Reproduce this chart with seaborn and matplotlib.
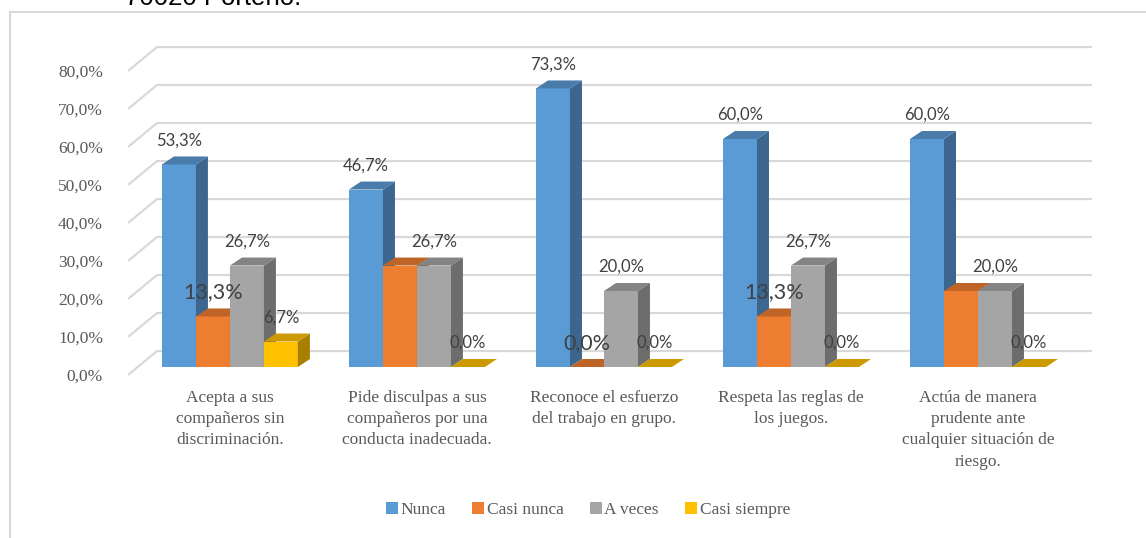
import numpy as np
import pandas as pd
import matplotlib.pyplot as plt
import seaborn as sns
from matplotlib.patches import Polygon, Patch, Rectangle
from matplotlib.colors import to_rgb

# --- datos ---
criterios = [
    "Acepta a sus\ncompañeros sin\ndiscriminación.",
    "Pide disculpas a sus\ncompañeros por una\nconducta inadecuada.",
    "Reconoce el esfuerzo\ndel trabajo en grupo.",
    "Respeta las reglas de\nlos juegos.",
    "Actúa de manera\nprudente ante\ncualquier situación de\nriesgo.",
]
respuestas = ["Nunca", "Casi nunca", "A veces", "Casi siempre"]
nunca = [53.3, 46.7, 73.3, 60.0, 60.0]
casi_nunca = [13.3, 26.7, 0.0, 13.3, 20.0]
a_veces = [26.7, 26.7, 20.0, 26.7, 20.0]
casi_siempre = [6.7, 0.0, 0.0, 0.0, 0.0]
y_ticks = [0, 10, 20, 30, 40, 50, 60, 70, 80]
titulo_cortado = "70020 Porteño."

# etiquetas visibles en el original (las de "Casi nunca" salen grandes y solo en algunas)
mostrar = {
    "Nunca": [True] * 5,
    "Casi nunca": [True, False, True, True, False],
    "A veces": [True] * 5,
    "Casi siempre": [True] * 5,
}

colores = ["#5B9BD5", "#ED7D31", "#A5A5A5", "#FFC000"]

df = pd.DataFrame({
    "Criterio": np.repeat(criterios, len(respuestas)),
    "Respuesta": respuestas * len(criterios),
    "Porcentaje": np.column_stack([nunca, casi_nunca, a_veces, casi_siempre]).ravel(),
})

sns.set_theme(style="white")
plt.rcParams["font.family"] = ["Liberation Serif", "DejaVu Serif"]

W, H = 1146, 538
fig = plt.figure(figsize=(W / 100, H / 100), dpi=100)
ax = fig.add_axes([128 / W, (H - 378.4) / H, 972 / W, (378.4 - 44) / H])

sns.barplot(data=df, x="Criterio", y="Porcentaje", hue="Respuesta",
            hue_order=respuestas, palette=colores, width=0.727,
            saturation=1, linewidth=0, legend=False, ax=ax)

ax.set_xlim(-0.545, 4.6524)
ax.set_ylim(-3, 85)

# pseudo 3D: profundidad de las barras
DX, DY = 12 / 187, 8 / 3.8
LBL = 6.3

bars = []
for j, cont in enumerate(ax.containers):
    for i, b in enumerate(cont.patches):
        bars.append((b.get_x(), j, i, b))
bars.sort(key=lambda t: t[0])

for rank, (_, j, i, b) in enumerate(bars):
    z = 2 + rank * 0.01
    base = np.array(to_rgb(colores[j]))
    lado = base * 0.66
    techo = base * 0.80
    L, R, h = b.get_x(), b.get_x() + b.get_width(), b.get_height()
    b.set_zorder(z)
    ax.add_patch(Polygon([(R, 0), (R + DX, DY), (R + DX, h + DY), (R, h)],
                         closed=True, facecolor=lado, edgecolor="none", zorder=z + 0.001))
    ax.add_patch(Polygon([(L, h), (R, h), (R + DX, h + DY), (L + DX, h + DY)],
                         closed=True, facecolor=techo, edgecolor="none", zorder=z + 0.002))

# etiquetas de valores
for j, cont in enumerate(ax.containers):
    serie = respuestas[j]
    for i, b in enumerate(cont.patches):
        if not mostrar[serie][i]:
            continue
        h = b.get_height()
        txt = f"{h:.1f}%".replace(".", ",")
        size = 15.5 if serie == "Casi nunca" else 12
        ax.text(b.get_x() + b.get_width() / 2, h + LBL, txt, ha="center", va="center",
                fontsize=size, color="#404040", family=["Lato", "DejaVu Sans"], zorder=10)

# líneas de cuadrícula (pared del fondo)
x0, ddx, x_end = -0.545, 29 / 187, 4.610
for v in y_ticks:
    ax.plot([x0, x0 + ddx, x_end], [v - 2.1, v + 4.2, v + 4.2],
            color="#D9D9D9", lw=1.6, zorder=1, clip_on=False, solid_capstyle="butt")

ax.set_yticks([v - 2.1 for v in y_ticks])
ax.set_yticklabels([f"{v:.1f}%".replace(".", ",") for v in y_ticks])
ax.set_xticks(range(len(criterios)))
ax.set_xticklabels(criterios, linespacing=1.45)
ax.tick_params(axis="y", length=0, pad=18, labelsize=12.5, labelcolor="#595959")
ax.tick_params(axis="x", length=0, pad=8, labelsize=12.5, labelcolor="#595959")
ax.set_xlabel("")
ax.set_ylabel("")
sns.despine(ax=ax, left=True, bottom=True)
ax.patch.set_visible(False)

# leyenda
handles = [Patch(facecolor=c, edgecolor="none") for c in colores]
fig.legend(handles, respuestas, loc="center", bbox_to_anchor=(588 / W, (H - 510) / H),
           ncol=4, frameon=False, handlelength=0.7, handleheight=0.7,
           handletextpad=0.15, columnspacing=1.5, prop={"size": 12.5},
           labelcolor="#595959")

# borde del área del gráfico y texto superior (cortado como en el original)
fig.add_artist(Rectangle((10 / W, -0.1), 1.2, (H - 12) / H + 0.1, transform=fig.transFigure,
                         fill=False, edgecolor="#D9D9D9", lw=1.5))
fig.text(125 / W, (H - 5) / H, titulo_cortado, ha="left", va="baseline",
         fontsize=18.5, color="black", family=["Liberation Sans", "DejaVu Sans"])

plt.savefig("out.png", dpi=100)
plt.close(fig)
